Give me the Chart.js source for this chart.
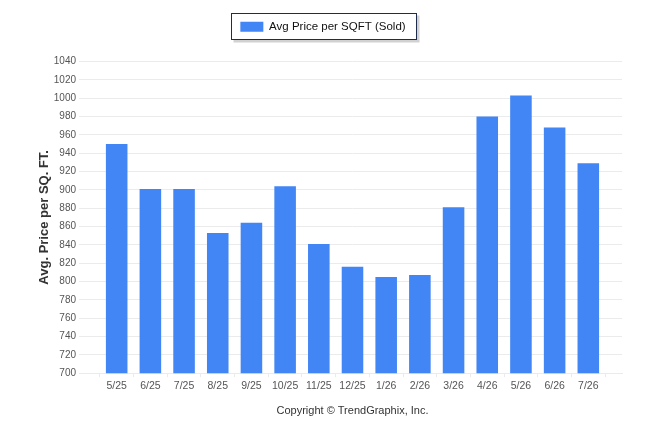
<!DOCTYPE html>
<html>
<head>
<meta charset="utf-8">
<script src="https://cdn.jsdelivr.net/npm/chart.js@4"></script>
<style>
    html, body { margin: 0; padding: 0; background: #ffffff; }
    #wrap { width: 646px; height: 434px; }
</style>
</head>
<body>
<div id="wrap"><canvas id="priceChart" width="646" height="434"></canvas></div>
<script>
// Months shown on the x axis
var months = ['5/25', '6/25', '7/25', '8/25', '9/25', '10/25', '11/25', '12/25',
              '1/26', '2/26', '3/26', '4/26', '5/26', '6/26', '7/26'];

// Avg price per sqft (sold)
var avgPrice = [950, 901, 901, 853, 864, 904, 841, 816, 805, 807, 881, 980, 1003, 968, 929];

var yMin = 700;
var yMax = 1040;
var yStep = 20;

var colors = {
    bar: '#4285f4',
    grid: '#ebebeb',
    tick: '#555555',
    title: '#333333',
    legendBorder: '#1f2d4d'
};

var tickFont = "'Liberation Sans Narrow', 'Liberation Sans', Arial, sans-serif";
var plainFont = "'Liberation Sans', Arial, sans-serif";

// empty slot at each end, like the original axis
var labels = [''].concat(months, ['']);
var values = [null].concat(avgPrice, [null]);

// extra room under the legend, and keep it centred on the whole canvas
var legendSpace = {
    id: 'legendSpace',
    beforeInit: function (chart) {
        var legend = chart.legend;
        if (!legend) {
            return;
        }
        var origFit = legend.fit;
        legend.fit = function () {
            origFit.call(this);
            this.height += 19;
        };
    },
    afterLayout: function (chart) {
        var legend = chart.legend;
        if (!legend) {
            return;
        }
        var d = chart.width / 2 - (legend.left + legend.right) / 2;
        legend.left += d;
        legend.right += d;
    }
};

// boxed legend with a small drop shadow
var legendBox = {
    id: 'legendBox',
    beforeDraw: function (chart) {
        var legend = chart.legend;
        if (!legend || !legend.legendHitBoxes || !legend.legendHitBoxes.length) {
            return;
        }
        var hb = legend.legendHitBoxes[0];
        var x = Math.round(hb.left - 9) + 0.5;
        var y = Math.round(hb.top - 8) + 0.5;
        var w = Math.round(hb.width + 20);
        var h = Math.round(hb.height + 14);
        var ctx = chart.ctx;
        ctx.save();
        ctx.fillStyle = 'rgba(0, 0, 0, 0.18)';
        ctx.fillRect(x + 2, y + 2, w + 1, h + 1);
        ctx.fillStyle = '#ffffff';
        ctx.fillRect(x, y, w, h);
        ctx.strokeStyle = colors.legendBorder;
        ctx.lineWidth = 1;
        ctx.strokeRect(x, y, w, h);
        ctx.restore();
    }
};

new Chart(document.getElementById('priceChart'), {
    type: 'bar',
    data: {
        labels: labels,
        datasets: [{
            label: 'Avg Price per SQFT (Sold)',
            data: values,
            backgroundColor: colors.bar,
            borderWidth: 0,
            barPercentage: 0.64,
            categoryPercentage: 1
        }]
    },
    options: {
        responsive: false,
        animation: false,
        devicePixelRatio: 1,
        layout: {
            padding: { left: 37, right: 24, top: 7, bottom: 16 }
        },
        scales: {
            x: {
                offset: false,
                grid: {
                    drawOnChartArea: false,
                    drawTicks: true,
                    tickLength: 4,
                    color: colors.grid
                },
                border: { color: colors.grid },
                ticks: {
                    autoSkip: false,
                    maxRotation: 0,
                    color: colors.tick,
                    padding: 3,
                    font: { family: tickFont, size: 10.5 }
                },
                title: {
                    display: true,
                    text: 'Copyright © TrendGraphix, Inc.',
                    color: colors.title,
                    padding: { top: 9, bottom: 0 },
                    font: { family: plainFont, size: 11 }
                }
            },
            y: {
                min: yMin,
                max: yMax,
                afterFit: function (scale) {
                    scale.width = 46;
                },
                grid: {
                    color: colors.grid,
                    tickLength: 4
                },
                border: { display: false },
                ticks: {
                    stepSize: yStep,
                    color: colors.tick,
                    padding: 3,
                    font: { family: tickFont, size: 10 },
                    callback: function (value) {
                        return String(value);
                    }
                },
                title: {
                    display: true,
                    text: 'Avg. Price per SQ. FT.',
                    color: colors.title,
                    padding: { top: 0, bottom: 0 },
                    font: { family: plainFont, size: 13, weight: 'bold' }
                }
            }
        },
        plugins: {
            legend: {
                display: true,
                position: 'top',
                labels: {
                    boxWidth: 23,
                    boxHeight: 10,
                    padding: 14,
                    color: '#111111',
                    font: { family: plainFont, size: 11.5 }
                }
            },
            tooltip: { enabled: false }
        }
    },
    plugins: [legendSpace, legendBox]
});
</script>
</body>
</html>
